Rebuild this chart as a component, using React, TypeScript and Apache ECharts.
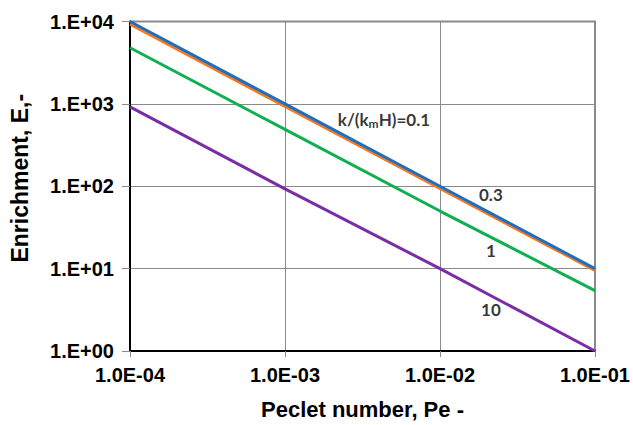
import React, { useEffect, useRef } from "react";
import * as echarts from "echarts";

// Peclet number (x) values
const peclet = [1e-4, 1e-3, 1e-2, 1e-1];
// Enrichment values for each k/(kmH)
const enrich01 = [10000, 1000, 100, 10];
const enrich03 = [9300, 930, 94, 9.5];
const enrich1 = [4800, 490, 50, 5.4];
const enrich10 = [920, 93, 10, 1.0];

const seriesNames = ["0.1", "0.3", "1", "10"];
const seriesColors = ["#1f6fc0", "#f47a22", "#10b050", "#7a2ea6"];

// Annotation texts and their anchor in data space
const annotationTexts = ["{a|k/(k}{s|m}{a|H)=0.1}", "0.3", "1", "10"];
const annotationX = [0.00435, 0.0213, 0.0213, 0.0213];
const annotationY = [645, 78.7, 16.7, 3.18];

const AXIS_FONT = "'Liberation Sans', Arial, sans-serif";
const NOTE_FONT = "Lato, 'Open Sans', sans-serif";

function fmtX(v: number) {
  const e = Math.round(Math.log10(v));
  return "1.0E" + (e < 0 ? "-" : "+") + String(Math.abs(e)).padStart(2, "0");
}
function fmtY(v: number) {
  const e = Math.round(Math.log10(v));
  return "1.E" + (e < 0 ? "-" : "+") + String(Math.abs(e)).padStart(2, "0");
}

export default function App() {
  const ref = useRef<HTMLDivElement>(null);
  useEffect(() => {
    if (!ref.current) return;
    const chart = echarts.init(ref.current, undefined, { renderer: "svg" });
    const dataSets = [enrich01, enrich03, enrich1, enrich10];
    const lineSeries = dataSets.map((vals, i) => ({
      type: "line",
      name: seriesNames[i],
      data: peclet.map((x, j) => [x, vals[j]]),
      showSymbol: false,
      symbol: "none",
      lineStyle: { color: seriesColors[i], width: 3 },
      z: i === 0 ? 5 : 4 - i,
    }));
    const noteSeries = {
      type: "scatter",
      symbolSize: 0,
      silent: true,
      z: 10,
      data: annotationTexts.map((t, i) => ({
        value: [annotationX[i], annotationY[i]],
        label: {
          show: true,
          position: "inside",
          formatter: t,
          color: "#000",
          fontSize: 17,
          fontWeight: "bold",
          fontFamily: NOTE_FONT,
          rich: {
            a: { fontSize: 17, fontWeight: "bold", fontFamily: NOTE_FONT, color: "#000", lineHeight: 20, verticalAlign: "middle" },
            s: { fontSize: 12, fontWeight: "bold", fontFamily: NOTE_FONT, color: "#000", lineHeight: 20, verticalAlign: "bottom", padding: [8, 0, 0, 0] },
          },
        },
      })),
    };
    chart.setOption({
      animation: false,
      backgroundColor: "#fff",
      grid: {
        left: 128,
        right: 36,
        top: 21.5,
        bottom: 70.5,
        show: true,
        borderColor: "#8a8a8a",
        borderWidth: 2,
      },
      xAxis: {
        type: "log",
        logBase: 10,
        min: 1e-4,
        max: 1e-1,
        splitNumber: 3,
        name: "Peclet number, Pe -",
        nameLocation: "middle",
        nameGap: 47,
        nameTextStyle: { fontSize: 22, fontWeight: "bold", fontFamily: AXIS_FONT, color: "#000" },
        axisLine: { show: true, lineStyle: { color: "#000", width: 2 } },
        axisTick: { show: true, length: 6, lineStyle: { color: "#8a8a8a", width: 1 } },
        minorTick: { show: false },
        splitLine: { show: true, lineStyle: { color: "#8a8a8a", width: 1 } },
        axisLabel: { formatter: fmtX, fontSize: 20, fontWeight: "bold", fontFamily: AXIS_FONT, color: "#000", margin: 14 },
      },
      yAxis: {
        type: "log",
        logBase: 10,
        min: 1,
        max: 1e4,
        splitNumber: 4,
        name: "Enrichment, E,-",
        nameLocation: "middle",
        nameGap: 99,
        nameTextStyle: { fontSize: 23, fontWeight: "bold", fontFamily: AXIS_FONT, color: "#000", padding: [0, 0, 0, 16] },
        axisLine: { show: true, lineStyle: { color: "#000", width: 2 } },
        axisTick: { show: true, length: 8, lineStyle: { color: "#8a8a8a", width: 1 } },
        minorTick: { show: false },
        splitLine: { show: true, lineStyle: { color: "#8a8a8a", width: 1 } },
        axisLabel: { formatter: fmtY, fontSize: 20, fontWeight: "bold", fontFamily: AXIS_FONT, color: "#000", margin: 16 },
      },
      series: [...lineSeries, noteSeries],
    });
    return () => chart.dispose();
  }, []);
  return <div ref={ref} style={{ position: "absolute", left: 0, top: 0, width: 633, height: 425 }} />;
}
